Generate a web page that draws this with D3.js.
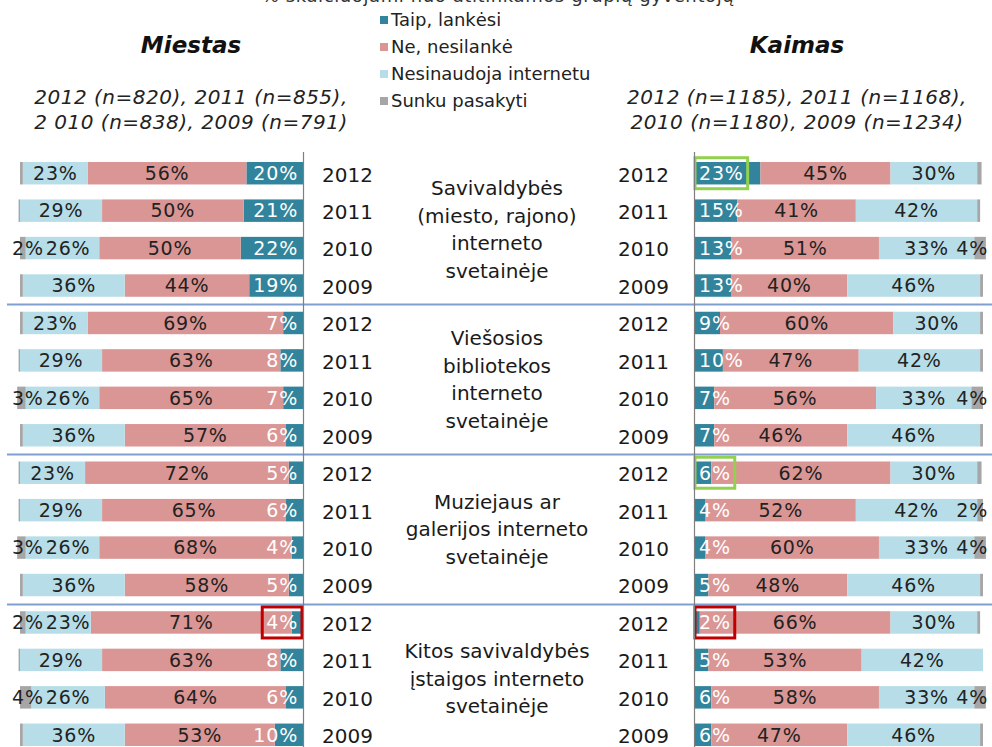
<!DOCTYPE html>
<html>
<head>
<meta charset="utf-8">
<script src="https://cdn.jsdelivr.net/npm/d3@7/dist/d3.min.js"></script>
<style>
  html, body { margin: 0; padding: 0; background: #fff; }
  svg { display: block; font-family: "DejaVu Sans", Verdana, sans-serif; }
</style>
</head>
<body>
<svg id="chart" width="992" height="747"></svg>
<script>
// Survey answers by year, grouped by kind of website.
const years = ["2012", "2011", "2010", "2009"];
const groupLines = [
  ["Savivaldybės", "(miesto, rajono)", "interneto", "svetainėje"],
  ["Viešosios", "bibliotekos", "interneto", "svetainėje"],
  ["Muziejaus ar", "galerijos interneto", "svetainėje"],
  ["Kitos savivaldybės", "įstaigos interneto", "svetainėje"]
];
const seriesNames = ["Taip, lankėsi", "Ne, nesilankė", "Nesinaudoja internetu", "Sunku pasakyti"];

// Miestas (city), rows: group by group, years 2012..2009
const miestasTaip        = [20, 21, 22, 19,  7,  8,  7,  6,  5,  6,  4,  5,  4,  8,  6, 10];
const miestasNe          = [56, 50, 50, 44, 69, 63, 65, 57, 72, 65, 68, 58, 71, 63, 64, 53];
const miestasNesinaudoja = [23, 29, 26, 36, 23, 29, 26, 36, 23, 29, 26, 36, 23, 29, 26, 36];
const miestasSunku       = [1, 0.5, 2, 1,  1, 0.5, 3, 1,  0.5, 0.5, 3, 1,  2, 0.5, 4, 1];

// Kaimas (rural)
const kaimasTaip        = [23, 15, 13, 13,  9, 10,  7,  7,  6,  4,  4,  5,  2,  5,  6,  6];
const kaimasNe          = [45, 41, 51, 40, 60, 47, 56, 46, 62, 52, 60, 48, 66, 53, 58, 47];
const kaimasNesinaudoja = [30, 42, 33, 46, 30, 42, 33, 46, 30, 42, 33, 46, 30, 42, 33, 46];
const kaimasSunku       = [1.5, 1, 4, 1,  1, 1, 4, 1,  1.5, 2, 4, 1,  1, 0, 4, 1];

// Sample sizes shown under each panel title
const miestasSampleLines = ["2012 (n=820), 2011 (n=855),", "2 010 (n=838),  2009 (n=791)"];
const kaimasSampleLines  = ["2012 (n=1185), 2011 (n=1168),", "2010 (n=1180), 2009 (n=1234)"];

// Cells whose "Taip" label is outlined
const highlights = [
  { panel: "kaimas", row: 0, kind: "up" },
  { panel: "kaimas", row: 8, kind: "up" },
  { panel: "miestas", row: 12, kind: "down" },
  { panel: "kaimas", row: 12, kind: "down" }
];

const colors = ["#31849b", "#da9694", "#b7dee8", "#a6a6a6"];
const labelColors = ["#ffffff", "#222222", "#222222", "#222222"];
const outlineColors = { up: "#92d050", down: "#c00000" };

const svg = d3.select("#chart");
const nRows = years.length * groupLines.length;
const rows = d3.range(nRows);

const y = d3.scaleBand().domain(rows).range([154.5, 753.5]).paddingInner(0.4).paddingOuter(0.2);

const xLeft = d3.scaleLinear().domain([0, 100]).range([303, 20]);
const xRight = d3.scaleLinear().domain([0, 100]).range([694, 983]);

const panels = [
  { id: "miestas", x: xLeft, series: [miestasTaip, miestasNe, miestasNesinaudoja, miestasSunku] },
  { id: "kaimas", x: xRight, series: [kaimasTaip, kaimasNe, kaimasNesinaudoja, kaimasSunku] }
];

// title line at the very top, mostly above the visible area
svg.append("text")
  .attr("x", 498).attr("y", 2)
  .attr("text-anchor", "middle")
  .attr("font-size", 18).attr("fill", "#333")
  .attr("letter-spacing", 0.6)
  .text("% skaičiuojami nuo atitinkamos grupių gyventojų");

// group separators
const groupStep = y.step() * years.length;
d3.range(1, groupLines.length).forEach(g => {
  const sy = Math.round(y.range()[0] + groupStep * g) + 0.5;
  svg.append("line")
    .attr("x1", 7).attr("x2", 992).attr("y1", sy).attr("y2", sy)
    .attr("stroke", "#7f9fcf").attr("stroke-width", 2);
});

const labelFont = 19;

panels.forEach(p => {
  const stackData = rows.map(r => {
    let acc = 0;
    return p.series.map((s, k) => {
      const v = s[r];
      const seg = { row: r, k, v, x0: acc, x1: acc + v };
      acc += v;
      return seg;
    });
  });

  const g = svg.append("g").attr("class", p.id);
  const dir = p.x(1) > p.x(0) ? 1 : -1;

  stackData.forEach(segs => {
    segs.forEach(seg => {
      if (seg.v <= 0) return;
      const a = p.x(seg.x0), b = p.x(seg.x1);
      g.append("rect")
        .attr("x", Math.min(a, b))
        .attr("y", y(seg.row))
        .attr("width", Math.abs(b - a))
        .attr("height", y.bandwidth())
        .attr("fill", colors[seg.k]);
    });
  });

  stackData.forEach(segs => {
    const texts = [];
    segs.forEach(seg => {
      if (seg.v <= 0) return;
      if (seg.k === 3 && seg.v < 2) return;
      const cy = y(seg.row) + y.bandwidth() / 2;
      let tx, anchor;
      if (seg.k === 0) {
        // inside-base placement next to the axis
        tx = p.x(0) + dir * 5;
        anchor = dir > 0 ? "start" : "end";
      } else {
        tx = p.x((seg.x0 + seg.x1) / 2);
        anchor = "middle";
      }
      const t = g.append("text")
        .attr("x", tx).attr("y", cy)
        .attr("dy", "0.36em")
        .attr("text-anchor", anchor)
        .attr("font-size", labelFont)
        .attr("letter-spacing", 0.8)
        .attr("fill", labelColors[seg.k])
        .text(Math.round(seg.v) + "%");
      texts[seg.k] = t;
      // keep end labels inside the drawing area
      if (seg.k === 3) {
        const bb = t.node().getBBox();
        if (bb.x + bb.width > 988) t.attr("x", tx - (bb.x + bb.width - 988));
        if (bb.x < 12) t.attr("x", tx + (12 - bb.x));
      }
      const h = highlights.find(d => d.panel === p.id && d.row === seg.row && seg.k === 0);
      if (h) {
        const bb = t.node().getBBox();
        g.append("rect")
          .attr("x", bb.x - 4).attr("y", cy - 15.5)
          .attr("width", bb.width + 8).attr("height", 31)
          .attr("fill", "none")
          .attr("stroke", outlineColors[h.kind]).attr("stroke-width", 3);
      }
    });
    // push the "Nesinaudoja" label clear of a neighbouring "Sunku" label
    if (texts[3] && texts[2]) {
      const s = texts[3].node().getBBox(), n = texts[2].node().getBBox();
      const overlap = dir < 0 ? (s.x + s.width) - n.x : (n.x + n.width) - s.x;
      if (overlap > -2) {
        const shift = (overlap + 2) * (dir < 0 ? 1 : -1);
        texts[2].attr("x", +texts[2].attr("x") + shift);
      }
    }
  });

  // axis line at the base of the bars
  g.append("line")
    .attr("x1", Math.round(p.x(0)) + 0.5).attr("x2", Math.round(p.x(0)) + 0.5)
    .attr("y1", 152).attr("y2", 747)
    .attr("stroke", "#7f7f7f").attr("stroke-width", 1.2);
});

// year labels on both sides of the middle column
const yearCols = [322, 618];
yearCols.forEach(cx => {
  svg.append("g").selectAll("text").data(rows).join("text")
    .attr("x", cx)
    .attr("y", r => y(r) + y.bandwidth() / 2)
    .attr("dy", "0.42em")
    .attr("font-size", 20)
    .attr("fill", "#1a1a1a")
    .text(r => years[r % years.length]);
});

// group names in the middle column
groupLines.forEach((lines, gi) => {
  const cy = y.range()[0] + groupStep * (gi + 0.5);
  const lh = 27.5;
  const top = cy - (lines.length - 1) * lh / 2;
  const t = svg.append("text")
    .attr("text-anchor", "middle")
    .attr("font-size", 20)
    .attr("fill", "#1a1a1a");
  lines.forEach((ln, i) => {
    t.append("tspan")
      .attr("x", 497)
      .attr("y", top + i * lh)
      .attr("dy", "0.36em")
      .text(ln);
  });
});

// panel titles
[{ name: "Miestas", cx: 191, lines: miestasSampleLines },
 { name: "Kaimas", cx: 797, lines: kaimasSampleLines }].forEach(d => {
  svg.append("text")
    .attr("x", d.cx).attr("y", 53)
    .attr("text-anchor", "middle")
    .attr("font-size", 23).attr("font-weight", "bold").attr("font-style", "italic")
    .attr("fill", "#111")
    .text(d.name);
  d.lines.forEach((ln, i) => {
    svg.append("text")
      .attr("x", d.cx).attr("y", 104 + i * 25)
      .attr("text-anchor", "middle")
      .attr("font-size", 20).attr("font-style", "italic")
      .attr("letter-spacing", 0.5)
      .attr("fill", "#222")
      .text(ln);
  });
});

// legend
const legend = svg.append("g").attr("transform", "translate(380,0)");
seriesNames.forEach((name, i) => {
  const ly = 20 + i * 27;
  legend.append("rect")
    .attr("x", 0).attr("y", ly - 4).attr("width", 8).attr("height", 8)
    .attr("fill", colors[i]);
  legend.append("text")
    .attr("x", 11).attr("y", ly).attr("dy", "0.36em")
    .attr("font-size", 18).attr("fill", "#222")
    .text(name);
});
</script>
</body>
</html>
